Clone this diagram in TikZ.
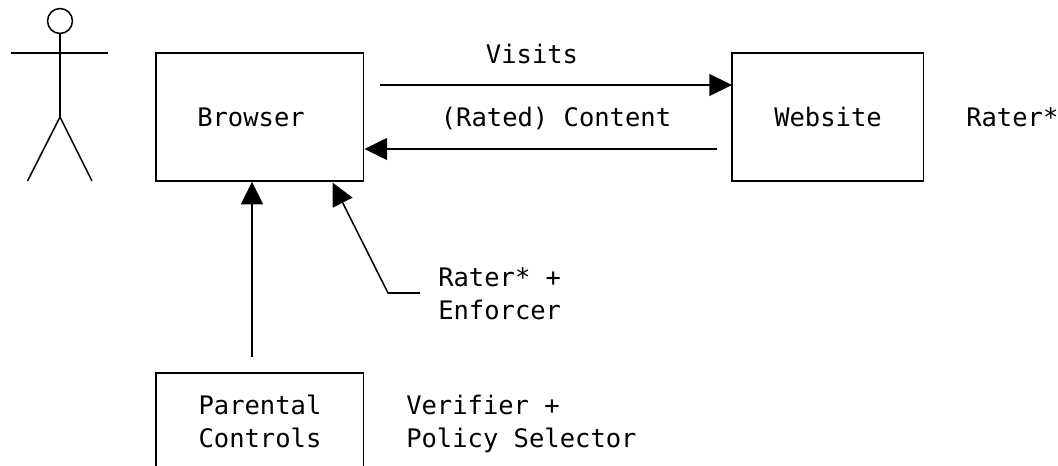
\documentclass[tikz,border=0pt]{standalone}
\usepackage{fontspec}
\setmonofont{DejaVu Sans Mono}
\usetikzlibrary{arrows.meta}
\tikzset{
 x=0.0264583cm,y=-0.0264583cm,
 box/.style={draw=black,line width=1.15pt,inner sep=0pt,outer sep=0pt,anchor=north west},
 lbl/.style={font=\ttfamily\fontsize{19.2pt}{24pt}\selectfont,inner sep=0pt,anchor=base,text=black},
 lbll/.style={lbl,anchor=base west},
 conn/.style={draw=black,line width=1.15pt,-{Triangle[length=17pt,width=16.5pt]}},
 plain/.style={draw=black,line width=1.15pt},
}
\begin{document}
\begin{tikzpicture}
\useasboundingbox (0,0) rectangle (1058,466);
\node[box,minimum width=156.3pt,minimum height=96.1pt] (browserbox) at (155.9,53.1) {};
\node[box,minimum width=144.3pt,minimum height=96.1pt] (websitebox) at (731.9,53.1) {};
\node[box,minimum width=156.3pt,minimum height=90pt] (pcbox) at (155.9,373.1) {};
\node[lbl] (browser) at (251,126.5) {Browser};
\node[lbl] (website) at (828,126.5) {Website};
\node[lbll] (rater) at (966,126.5) {Rater*};
\node[lbl] (visits) at (532,63.5) {Visits};
\node[lbl] (rated) at (556,126.5) {(Rated) Content};
\node[lbll] (re1) at (438,287) {Rater* +};
\node[lbll] (re2) at (438,319.5) {Enforcer};
\node[lbl] (pc1) at (260,415) {Parental};
\node[lbl] (pc2) at (260,447.5) {Controls};
\node[lbll] (vp1) at (406,415) {Verifier +};
\node[lbll] (vp2) at (406,447.5) {Policy Selector};
\coordinate (vs) at (380,85);
\coordinate (cs) at (717,149);
\coordinate (ps) at (252,357);
\coordinate (es) at (420,293);
\coordinate (eb) at (388,293);
\coordinate (et) at (332.5,182.5);
\draw[conn] (vs) -- (vs -| websitebox.west);
\draw[conn,shorten >=0.75pt] (cs) -- (cs -| browserbox.east);
\draw[conn,shorten >=0.75pt] (ps) -- (ps |- browserbox.south);
\draw[conn] (es) -- (eb) -- (et);
% actor
\node[draw=black,line width=1.15pt,circle,inner sep=0pt,outer sep=0pt,minimum size=18.75pt] (head) at (60,21) {};
\coordinate (hip) at (60,117);
\coordinate (armL) at (11,53);
\coordinate (armR) at (108,53);
\coordinate (legL) at (27.5,181);
\coordinate (legR) at (92,181);
\draw[plain] (head.south) -- (hip);
\draw[plain] (armL) -- (armR);
\draw[plain] (legL) -- (hip) -- (legR);
\end{tikzpicture}
\end{document}
